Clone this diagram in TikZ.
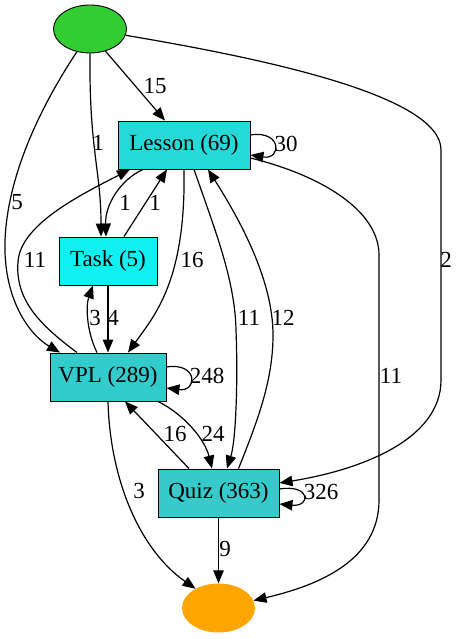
\documentclass[tikz,border=0pt]{standalone}
\usepackage{fontspec}
\setmainfont{Liberation Serif}
\usepackage{xcolor}
\usepackage{tikz}
\usetikzlibrary{shapes.geometric,arrows.meta}

\definecolor{startgreen}{HTML}{33CC33}
\definecolor{lessoncol}{HTML}{26D9D9}
\definecolor{taskcol}{HTML}{10F0F0}
\definecolor{vplcol}{HTML}{33CCCC}
\definecolor{quizcol}{HTML}{36CACA}
\definecolor{endorange}{HTML}{FFA500}

\begin{document}
\begin{tikzpicture}[x=1pt,y=-1pt,
  act/.style={draw=black,line width=0.9pt,minimum height=48pt,inner sep=0pt,font=\rmfamily\fontsize{23}{25}\selectfont},
  edge/.style={line width=1.2pt,-{Triangle[length=13pt,width=10.5pt]}},
  lbl/.style={inner sep=0pt,font=\rmfamily\fontsize{23}{25}\selectfont}]
\useasboundingbox (0,0) rectangle (460,639);

\node[ellipse,draw=black,line width=0.9pt,fill=startgreen,minimum width=73pt,minimum height=48pt,inner sep=0pt](start) at (90,29) {};
\node[act,fill=lessoncol,minimum width=132pt](lesson) at (184,145) {Lesson (69)};
\node[act,fill=taskcol,minimum width=98pt](task) at (108,261) {Task (5)};
\node[act,fill=vplcol,minimum width=116pt](vpl) at (108,377) {VPL (289)};
\node[act,fill=quizcol,minimum width=121pt](quiz) at (218.5,493) {Quiz (363)};
\node[ellipse,fill=endorange,minimum width=73pt,minimum height=49pt,inner sep=0pt](end) at (218.5,608) {};

\draw[edge] (start.-55) -- ([xshift=-19pt]lesson.north);
\draw[edge] (start.south) .. controls (89,150) and (101,170) .. ([xshift=-7pt]task.north);
\draw[edge] (start.-120) .. controls (45,100) and (8,170) .. (5,240) .. controls (3,300) and (30,335) .. ([xshift=-48pt]vpl.north);
\draw[edge] (start.-10) .. controls (260,58) and (441,95) .. (441,150) -- (441,380) .. controls (441,440) and (360,470) .. ([yshift=10pt]quiz.east);
\draw[edge] ([yshift=10pt]lesson.east) .. controls (282,130) and (282,160) .. ([yshift=-10pt]lesson.east);
\draw[edge] ([xshift=-41pt]lesson.south) .. controls (120,180) and (105,205) .. ([xshift=-2pt]task.north);
\draw[edge] ([xshift=16pt]task.north) -- ([xshift=-17pt]lesson.south);
\draw[edge] (lesson.south) .. controls (186,280) and (155,315) .. ([xshift=20pt]vpl.north);
\draw[edge] ([xshift=10pt]lesson.south) .. controls (215,230) and (235,280) .. (236,330) .. controls (238,380) and (236,440) .. ([xshift=8.5pt]quiz.north);
\draw[edge] ([xshift=20pt]quiz.north) .. controls (258,420) and (273,380) .. (273,335) .. controls (273,280) and (240,220) .. ([xshift=24pt]lesson.south);
\draw[edge] ([yshift=-13pt]lesson.east) .. controls (320,175) and (379,210) .. (379,255) -- (379,500) .. controls (379,560) and (320,585) .. (end.12);
\draw[edge] ([xshift=-31pt]vpl.north) .. controls (40,325) and (15,300) .. (18,262) .. controls (20,225) and (80,195) .. ([xshift=-54pt]lesson.south);
\draw[edge] ([xshift=-11pt]vpl.north) .. controls (86,330) and (86,305) .. ([xshift=-15pt]task.south);
\draw[edge] (task.south) -- (vpl.north);
\draw[edge] ([yshift=10pt]vpl.east) .. controls (198,362) and (198,392) .. ([yshift=-11pt]vpl.east);
\draw[edge] ([xshift=50pt]vpl.south) .. controls (185,415) and (205,440) .. ([xshift=-6.5pt]quiz.north);
\draw[edge] ([xshift=-29.5pt]quiz.north) -- ([xshift=17pt]vpl.south);
\draw[edge] (vpl.south) .. controls (110,480) and (140,550) .. (end.140);
\draw[edge] ([yshift=4pt]quiz.east) .. controls (311,484) and (311,507) .. ([yshift=-11pt]quiz.east);
\draw[edge] (quiz.south) -- (end.north);

\foreach \n/\x/\y/\t in {l15/155/86/15, lsa/98/143/1, lfive/17/202/5, ltwo/446/260/2,
  lthirty/286/144/30, llt/125/203/1, ltl/155/203/1, llv/192/260/16,
  llq/249/318/11, lql/283/318/12, lle/391/376/11, lvl/35/260/11,
  lvt/95/318/3, ltv/113/318/4, lvv/207/376/248, lvq/213/434/24,
  lqv/175/434/16, lve/139/491/3, lqq/321/492/326, lqe/225/549/9}
\node[lbl] (\n) at (\x,\y) {\t};
\end{tikzpicture}
\end{document}
